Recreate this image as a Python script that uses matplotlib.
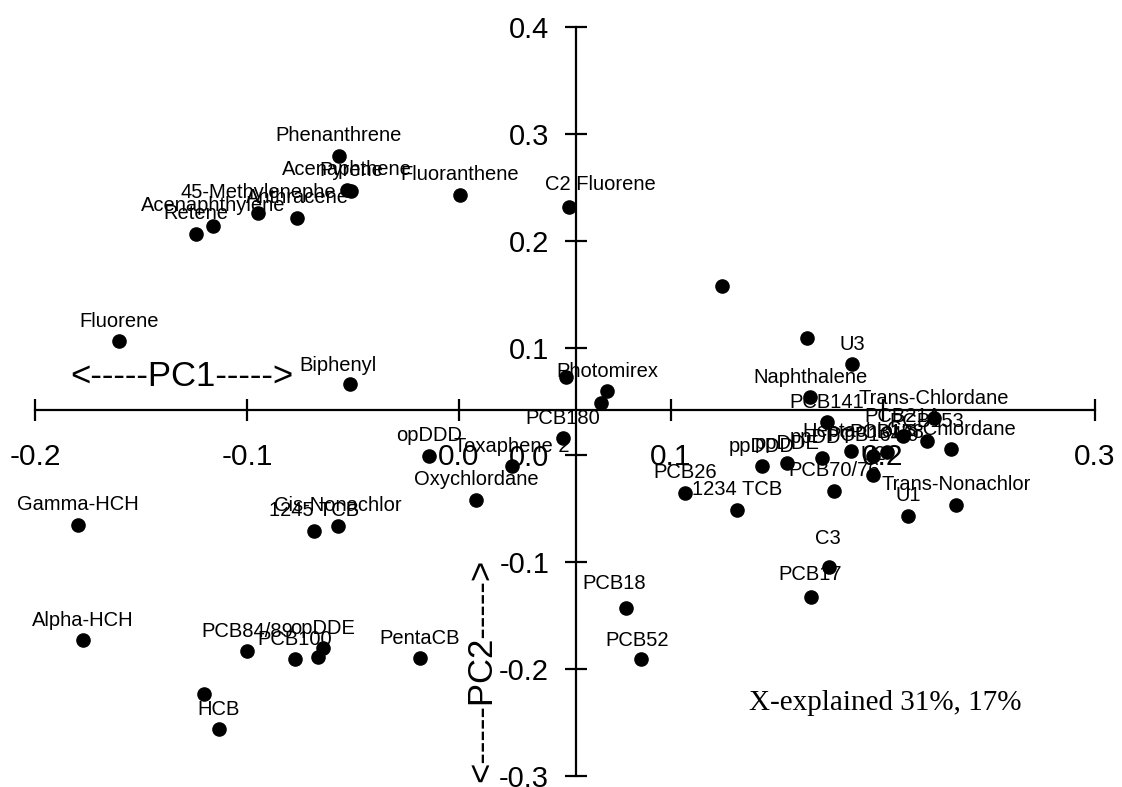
import matplotlib
matplotlib.use("Agg")
import matplotlib.pyplot as plt

# Loadings on the first two principal components
names = [
    "Phenanthrene", "Acenaphthene", "Pyrene", "Fluoranthene", "45-Methylenephe",
    "Anthracene", "Acenaphthylene", "Retene", "C2 Fluorene", "", "", "U3",
    "Fluorene", "Biphenyl", "", "Photomirex", "", "Naphthalene", "PCB141",
    "Trans-Chlordane", "PCB21A", "PCB153", "Cis-Chlordane", "Heptachlor",
    "PCB138", "PCB164/9", "ppDDT", "ppDDE", "ppDDD", "U2", "PCB70/76",
    "Trans-Nonachlor", "U1", "PCB180", "Toxaphene 2", "opDDD", "Oxychlordane",
    "PCB26", "1234 TCB", "C3", "PCB17", "PCB18", "PCB52", "Gamma-HCH",
    "1245 TCB", "Cis-Nonachlor", "Alpha-HCH", "PCB84/89", "PCB100", "opDDE",
    "", "PentaCB", "", "HCB",
]
pc1 = [
    -0.0566, -0.0528, -0.0509, 0.0005, -0.0948,
    -0.0764, -0.1160, -0.1241, 0.0519, 0.1241, 0.1642, 0.1854,
    -0.1604, -0.0514, 0.0505, 0.0698, 0.0670, 0.1656, 0.1736,
    0.2241, 0.2094, 0.2208, 0.2321, 0.1849,
    0.2019, 0.1953, 0.1712, 0.1547, 0.1429, 0.1953, 0.1769,
    0.2344, 0.2118, 0.0491, 0.0250, -0.0142, 0.0080,
    0.1066, 0.1311, 0.1745, 0.1660, 0.0788, 0.0858, -0.1797,
    -0.0684, -0.0571, -0.1774, -0.1000, -0.0774, -0.0642,
    -0.0665, -0.0184, -0.1203, -0.1132,
]
pc2 = [
    0.2796, 0.2479, 0.2470, 0.2432, 0.2265,
    0.2218, 0.2144, 0.2069, 0.2321, 0.1575, 0.1090, 0.0848,
    0.1062, 0.0662, 0.0727, 0.0596, 0.0485, 0.0541, 0.0308,
    0.0345, 0.0177, 0.0130, 0.0056, 0.0037,
    0.0028, -0.0009, -0.0028, -0.0075, -0.0103, -0.0186, -0.0336,
    -0.0466, -0.0568, 0.0158, -0.0103, -0.0009, -0.0419,
    -0.0354, -0.0513, -0.1044, -0.1323, -0.1426, -0.1911, -0.0652,
    -0.0708, -0.0662, -0.1733, -0.1836, -0.1911, -0.1808,
    -0.1892, -0.1901, -0.2237, -0.2563,
]
x_ticks = [-0.2, -0.1, 0.0, 0.1, 0.2, 0.3]
y_ticks = [-0.3, -0.2, -0.1, 0.0, 0.1, 0.2, 0.3, 0.4]
explained = (31, 17)

# label placement: pixels right / up from the point
default_offset = (0, 20)
label_offsets = {
    "C2 Fluorene": (31, 22),
    "Biphenyl": (-12, 19),
    "PCB18": (-12, 24),
    "PCB52": (-4, 19),
    "C3": (-1, 28),
    "PCB17": (-1, 22),
}

sans = ["Liberation Sans", "DejaVu Sans"]
serif = ["Liberation Serif", "DejaVu Serif"]

fig = plt.figure(figsize=(11.22, 7.87), dpi=100)
ax = fig.add_axes([35 / 1122, 11 / 787, 1060 / 1122, 749 / 787])
ax.set_xlim(-0.2, 0.3)
ax.set_ylim(-0.3, 0.4)

for side in ("top", "right"):
    ax.spines[side].set_visible(False)
ax.spines["left"].set_position(("data", 0.055))
ax.spines["bottom"].set_position(("data", 0.042))
for side in ("left", "bottom"):
    ax.spines[side].set_linewidth(1.6)

ax.set_xticks(x_ticks)
ax.set_xticklabels([f"{v:.1f}" for v in x_ticks], family=sans, fontsize=21.5)
ax.set_yticks(y_ticks)
ax.set_yticklabels([f"{v:.1f}" for v in y_ticks], family=sans, fontsize=21)
ax.tick_params(axis="both", direction="inout", length=16, width=1.6)
ax.tick_params(axis="x", pad=16)
ax.tick_params(axis="y", pad=11)

ax.scatter(pc1, pc2, s=90, color="black", zorder=3, clip_on=False)

px2pt = 0.72
for name, x, y in zip(names, pc1, pc2):
    if not name:
        continue
    dx, dy = label_offsets.get(name, default_offset)
    ax.annotate(name, (x, y), xytext=(dx * px2pt, dy * px2pt),
                textcoords="offset points", ha="center", va="center",
                family=sans, fontsize=14.5, zorder=4)

ax.text(-0.1307, 0.0736, "<-----PC1----->", family=sans, fontsize=25,
        ha="center", va="center")
ax.text(0.0108, -0.2013, "<-----PC2----->", family=sans, fontsize=25,
        ha="center", va="center", rotation=90)
ax.text(0.2009, -0.2321, f"X-explained {explained[0]}%, {explained[1]}%",
        family=serif, fontsize=21, ha="center", va="center")

fig.savefig("out.png", dpi=100)
